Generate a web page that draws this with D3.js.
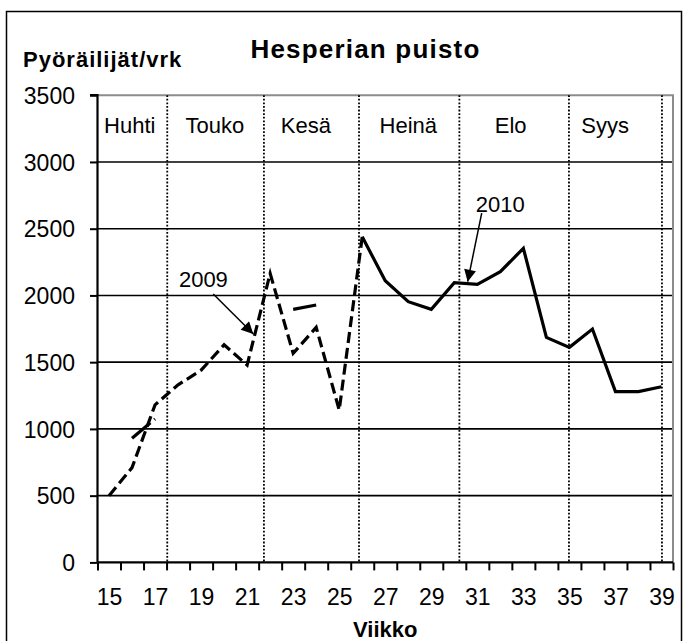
<!DOCTYPE html>
<html>
<head>
<meta charset="utf-8">
<script src="https://cdn.jsdelivr.net/npm/d3@7"></script>
<style>
  html, body { margin: 0; padding: 0; background: #fff; }
  svg { display: block; font-family: "Liberation Sans", Arial, sans-serif; }
</style>
</head>
<body>
<div id="chart"></div>
<script>
// Viikot (kategoriat)
const weeks = [15, 16, 17, 18, 19, 20, 21, 22, 23, 24, 25, 26, 27,
               28, 29, 30, 31, 32, 33, 34, 35, 36, 37, 38, 39];

// 2009, katkoviiva (viikot 15-26)
const cyclists2009 = [500, 710, 1180, 1330, 1440, 1630, 1478, 2165, 1566, 1761, 1141, 2439,
                      null, null, null, null, null, null, null, null, null, null, null, null, null];

// 2010, yhtenäinen viiva (viikot 26-39)
const cyclists2010 = [null, null, null, null, null, null, null, null, null, null, null, 2439,
                      2110, 1953, 1896, 2095, 2083, 2178, 2353, 1686, 1611, 1748, 1279, 1279, 1316];

// lyhyet erilliset pätkät
const cyclistsExtra = [null, 930, 1075, null, null, null, null, null, 1895, 1928, null, null,
                       null, null, null, null, null, null, null, null, null, null, null, null, null];

// kuukaudet: rajat ja nimien paikat viikkoina
const monthNames = ["Huhti", "Touko", "Kesä", "Heinä", "Elo", "Syys"];
const monthLabelWeek = [15.9, 19.6, 23.55, 28.0, 32.45, 36.55];
const monthStartWeek = [17.53, 21.73, 25.86, 30.22, 34.98, 39.02];

const yTicks = [0, 500, 1000, 1500, 2000, 2500, 3000, 3500];
const xTickLabels = [15, 17, 19, 21, 23, 25, 27, 29, 31, 33, 35, 37, 39];

const width = 685, height = 641;
const plot = { left: 97.5, right: 673, top: 95.2, bottom: 562.4 };

const svg = d3.select('#chart').append('svg')
  .attr('width', width)
  .attr('height', height);

// ulkoreunus
svg.append('rect')
  .attr('x', 6.5).attr('y', 11.5)
  .attr('width', 675).attr('height', 645)
  .attr('fill', 'none')
  .attr('stroke', '#000')
  .attr('stroke-width', 1.5);

const x = d3.scaleLinear()
  .domain([weeks[0] - 0.5, weeks[weeks.length - 1] + 0.5])
  .range([plot.left, plot.right]);

const y = d3.scaleLinear()
  .domain([0, 3500])
  .range([plot.bottom, plot.top]);

// vaakaviivat
svg.append('g')
  .selectAll('line')
  .data(yTicks.slice(1, -1))
  .join('line')
  .attr('x1', plot.left).attr('x2', plot.right)
  .attr('y1', d => y(d)).attr('y2', d => y(d))
  .attr('stroke', '#000')
  .attr('stroke-width', 1.6);

// piirtoalueen reunat (harmaa)
svg.append('path')
  .attr('d', `M${plot.left},${y(3500)}H${plot.right}V${plot.bottom}`)
  .attr('fill', 'none')
  .attr('stroke', '#8c8c8c')
  .attr('stroke-width', 2);

// kuukausirajat (pisteviiva)
svg.append('g')
  .selectAll('line')
  .data(monthStartWeek)
  .join('line')
  .attr('x1', d => x(d)).attr('x2', d => x(d))
  .attr('y1', y(3500)).attr('y2', plot.bottom)
  .attr('stroke', '#000')
  .attr('stroke-width', 1.8)
  .attr('stroke-dasharray', '1.8,1.8');

// kuukausien nimet
svg.append('g')
  .selectAll('text')
  .data(monthNames)
  .join('text')
  .attr('x', (d, i) => x(monthLabelWeek[i]))
  .attr('y', 133)
  .attr('text-anchor', 'middle')
  .attr('font-size', 22)
  .attr('fill', '#000')
  .text(d => d);

// y-akseli
const yAxis = svg.append('g')
  .attr('transform', `translate(${plot.left},0)`)
  .call(d3.axisLeft(y).tickValues(yTicks).tickSize(7.5).tickPadding(15).tickFormat(d3.format('d')));
yAxis.select('.domain').attr('stroke', '#000').attr('stroke-width', 2.2)
  .attr('d', `M-7.5,${y(3500)}H0V${plot.bottom}`);
yAxis.selectAll('.tick line').attr('stroke', '#000').attr('stroke-width', 2);
yAxis.selectAll('.tick text')
  .attr('font-size', 23)
  .attr('font-family', '"Liberation Sans", Arial, sans-serif')
  .attr('fill', '#000')
  .attr('dy', '0.36em');

// x-akseli: väliviivat kategorioiden välissä
const xTickMarks = weeks.map(w => w - 0.5).concat([weeks[weeks.length - 1] + 0.5]);
const xAxisTicks = svg.append('g')
  .attr('transform', `translate(0,${plot.bottom})`)
  .call(d3.axisBottom(x).tickValues(xTickMarks).tickSize(8).tickFormat(''));
xAxisTicks.select('.domain').attr('stroke', '#000').attr('stroke-width', 2.2)
  .attr('d', `M${plot.left},0H${plot.right}`);
xAxisTicks.selectAll('.tick line').attr('stroke', '#000').attr('stroke-width', 2);

// x-akselin numerot
const xAxisLabels = svg.append('g')
  .attr('transform', `translate(0,${plot.bottom})`)
  .call(d3.axisBottom(x).tickValues(xTickLabels).tickSize(0).tickPadding(26));
xAxisLabels.select('.domain').remove();
xAxisLabels.selectAll('.tick text')
  .attr('font-size', 23)
  .attr('font-family', '"Liberation Sans", Arial, sans-serif')
  .attr('fill', '#000');

// sarjat
const line = d3.line()
  .defined(d => d.v !== null)
  .x(d => x(d.w))
  .y(d => y(d.v));

const toPoints = arr => weeks.map((w, i) => ({ w: w, v: arr[i] }));

svg.append('path')
  .datum(toPoints(cyclistsExtra))
  .attr('d', line)
  .attr('fill', 'none')
  .attr('stroke', '#000')
  .attr('stroke-width', 3.2)
  .attr('stroke-dasharray', '24,5');

svg.append('path')
  .datum(toPoints(cyclists2009))
  .attr('d', line)
  .attr('fill', 'none')
  .attr('stroke', '#000')
  .attr('stroke-width', 3.2)
  .attr('stroke-dasharray', '11,5');

svg.append('path')
  .datum(toPoints(cyclists2010))
  .attr('d', line)
  .attr('fill', 'none')
  .attr('stroke', '#000')
  .attr('stroke-width', 3.2)
  .attr('stroke-linejoin', 'miter');

// nuolet ja vuosiluvut
svg.append('defs').append('marker')
  .attr('id', 'arrow')
  .attr('viewBox', '0 0 10 10')
  .attr('refX', 10).attr('refY', 5)
  .attr('markerWidth', 14).attr('markerHeight', 12)
  .attr('markerUnits', 'userSpaceOnUse')
  .attr('orient', 'auto')
  .append('path')
  .attr('d', 'M0,0L10,5L0,10Z')
  .attr('fill', '#000');

const notes = [
  { label: "2009", tw: 19.1, tv: 2065, from: [19.53, 2011], to: [21.27, 1711] },
  { label: "2010", tw: 32.0, tv: 2625, from: [31.19, 2617], to: [30.58, 2103] }
];

svg.append('g')
  .selectAll('line')
  .data(notes)
  .join('line')
  .attr('x1', d => x(d.from[0])).attr('y1', d => y(d.from[1]))
  .attr('x2', d => x(d.to[0])).attr('y2', d => y(d.to[1]))
  .attr('stroke', '#000')
  .attr('stroke-width', 1.5)
  .attr('marker-end', 'url(#arrow)');

svg.append('g')
  .selectAll('text')
  .data(notes)
  .join('text')
  .attr('x', d => x(d.tw))
  .attr('y', d => y(d.tv))
  .attr('text-anchor', 'middle')
  .attr('font-size', 22)
  .attr('fill', '#000')
  .text(d => d.label);

// otsikot
svg.append('text')
  .attr('x', 365.5).attr('y', 58)
  .attr('text-anchor', 'middle')
  .attr('font-size', 26)
  .attr('font-weight', 'bold')
  .attr('letter-spacing', 1.2)
  .text('Hesperian puisto');

svg.append('text')
  .attr('x', 23).attr('y', 66.5)
  .attr('font-size', 22)
  .attr('font-weight', 'bold')
  .attr('letter-spacing', 1)
  .text('Pyöräilijät/vrk');

svg.append('text')
  .attr('x', (plot.left + plot.right) / 2).attr('y', 637)
  .attr('text-anchor', 'middle')
  .attr('font-size', 22)
  .attr('font-weight', 'bold')
  .text('Viikko');
</script>
</body>
</html>
